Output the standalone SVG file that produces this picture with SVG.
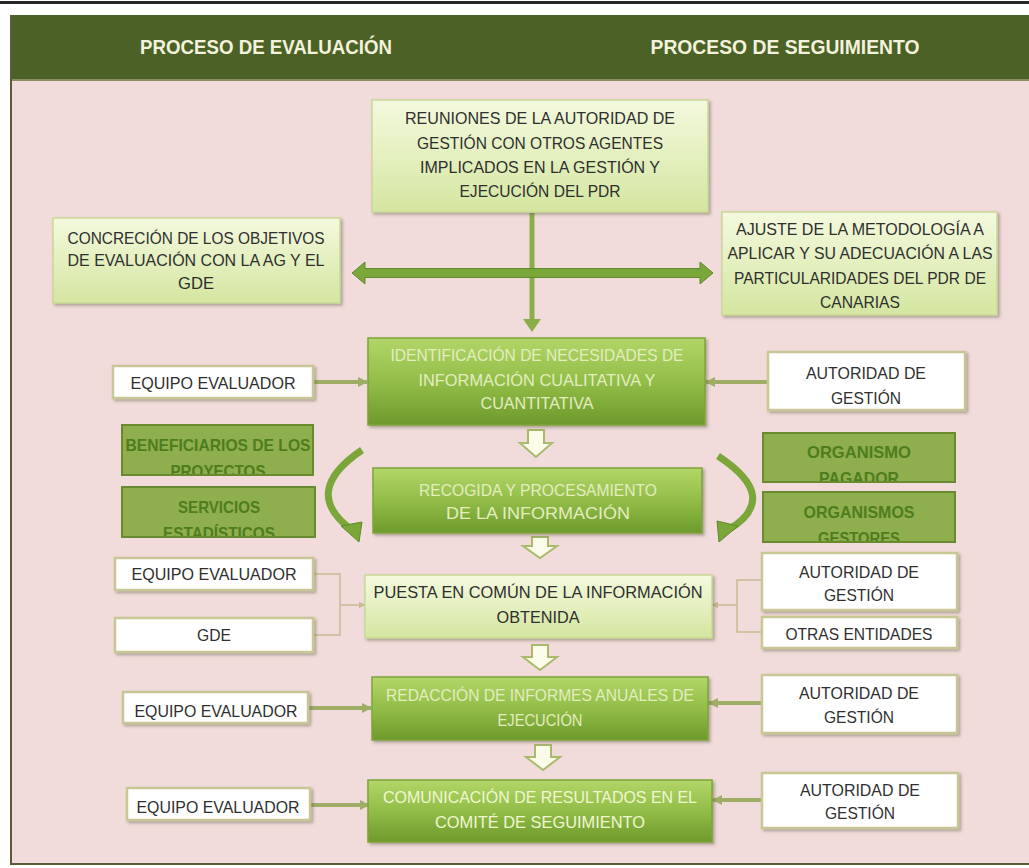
<svg xmlns="http://www.w3.org/2000/svg" width="1029" height="868" viewBox="0 0 1029 868">
<defs>
<style>
.t{font-family:"Liberation Sans",Arial,sans-serif;font-size:17px;text-anchor:middle;fill:#2f2f2f}
.p{fill:#e3edc0}
.pc{fill:#f0f6d2}
.o{fill:#4e7d1e;font-weight:bold}
.h{font-family:"Liberation Sans",Arial,sans-serif;font-weight:bold;font-size:20px;text-anchor:middle;fill:#f2f2de}
.lb{fill:url(#lightG);stroke:#c9d897;stroke-width:1.5}
.mb{fill:url(#midG);stroke:#7fa43a;stroke-width:1.5}
.wb{fill:#ffffff;stroke:#c9c796;stroke-width:2.5}
.ob{fill:#8fae4e;stroke:#6a8a30;stroke-width:2}
.con{stroke:#9fae66;stroke-width:4;fill:none}
.thin{stroke:#c8bb94;stroke-width:1.5;fill:none}
.hol{fill:#fbfbea;stroke:#a9ba6c;stroke-width:2}
.garr{fill:#7ba63a;stroke:#5f8a2a;stroke-width:1}
</style>
<linearGradient id="lightG" x1="0" y1="0" x2="0" y2="1">
<stop offset="0" stop-color="#f4f9de"/>
<stop offset="1" stop-color="#d4e6a0"/>
</linearGradient>
<linearGradient id="midG" x1="0" y1="0" x2="0" y2="1">
<stop offset="0" stop-color="#b2d668"/>
<stop offset="0.5" stop-color="#92bd48"/>
<stop offset="1" stop-color="#6e9a2c"/>
</linearGradient>
<filter id="sh" x="-5%" y="-10%" width="115%" height="130%">
<feDropShadow dx="2" dy="2" stdDeviation="1.5" flood-color="#5a5a40" flood-opacity="0.45"/>
</filter>
<marker id="ah" viewBox="0 0 10 10" refX="9" refY="5" markerWidth="10" markerHeight="10" markerUnits="userSpaceOnUse" orient="auto">
<path d="M0,0 L10,5 L0,10 z" fill="#9fae66"/>
</marker>
<marker id="ahs" viewBox="0 0 10 10" refX="9" refY="5" markerWidth="7" markerHeight="7" markerUnits="userSpaceOnUse" orient="auto">
<path d="M0,0 L10,5 L0,10 z" fill="#c8bb94"/>
</marker>
<clipPath id="cB"><rect x="122" y="425" width="191" height="49"/></clipPath>
<clipPath id="cS"><rect x="122" y="487" width="193" height="49"/></clipPath>
<clipPath id="cP"><rect x="763" y="433" width="192" height="48"/></clipPath>
<clipPath id="cG"><rect x="763" y="492" width="192" height="49"/></clipPath>
</defs>

<!-- background -->
<rect x="0" y="0" width="1029" height="868" fill="#ffffff"/>
<rect x="0" y="1" width="1029" height="3" fill="#262626"/>
<rect x="10" y="80" width="1019" height="784" fill="#f2dcdb"/>
<rect x="10" y="15" width="1019" height="65" fill="#4b6125"/>
<line x1="10" y1="80" x2="1029" y2="80" stroke="#8c8c62" stroke-width="2"/>
<line x1="11" y1="15" x2="11" y2="864" stroke="#5b5a3a" stroke-width="2"/>
<line x1="10" y1="864" x2="1029" y2="864" stroke="#5b5a3a" stroke-width="2"/>
<text class="h" x="266" y="54" textLength="252" lengthAdjust="spacingAndGlyphs">PROCESO DE EVALUACIÓN</text>
<text class="h" x="785" y="54" textLength="269" lengthAdjust="spacingAndGlyphs">PROCESO DE SEGUIMIENTO</text>

<!-- connectors -->
<g id="connectors">
<rect x="529.5" y="213" width="5" height="108" fill="#8aae4a"/>
<polygon points="523,319 541,319 532,332" fill="#8aae4a"/>
<polygon class="garr" points="352,273 365,262 365,268.5 700,268.5 700,262 713,273 700,284 700,277.5 365,277.5 365,284"/>
<line class="con" x1="313" y1="382" x2="367" y2="382" marker-end="url(#ah)"/>
<line class="con" x1="768" y1="382" x2="706" y2="382" marker-end="url(#ah)"/>
<polygon class="hol" points="528,430 544,430 544,443 552,443 536,457 520,443 528,443"/>
<path d="M362,450 Q300,492 352,530" stroke="#7ba63a" stroke-width="7" fill="none"/>
<polygon class="garr" points="341,526 362,522 359,542"/>
<path d="M718,456 Q782,498 728,530" stroke="#7ba63a" stroke-width="7" fill="none"/>
<polygon class="garr" points="738,526 717,521 719,542"/>
<polygon class="hol" points="532,537 548,537 548,546 557,546 540,558 523,546 532,546"/>
<polyline class="thin" points="313,574 340,574 340,635 313,635"/>
<line class="thin" x1="340" y1="605" x2="365" y2="605" marker-end="url(#ahs)"/>
<polyline class="thin" points="762,580 737,580 737,632 762,632"/>
<line class="thin" x1="737" y1="605" x2="712" y2="605" marker-end="url(#ahs)"/>
<polygon class="hol" points="532,645 548,645 548,657 557,657 540,670 523,657 532,657"/>
<line class="con" x1="308" y1="708" x2="371" y2="708" marker-end="url(#ah)"/>
<line class="con" x1="762" y1="703" x2="709" y2="703" marker-end="url(#ah)"/>
<polygon class="hol" points="535,745 551,745 551,757 560,757 543,770 526,757 535,757"/>
<line class="con" x1="310" y1="805" x2="369" y2="805" marker-end="url(#ah)"/>
<line class="con" x1="762" y1="800" x2="713" y2="800" marker-end="url(#ah)"/>
</g>

<g id="reuniones">
<rect class="lb" x="372" y="100" width="336" height="112" filter="url(#sh)"/>
<text class="t" x="540" y="124" textLength="270" lengthAdjust="spacingAndGlyphs">REUNIONES DE LA AUTORIDAD DE</text>
<text class="t" x="540" y="149" textLength="246" lengthAdjust="spacingAndGlyphs">GESTIÓN CON OTROS AGENTES</text>
<text class="t" x="540" y="173" textLength="240" lengthAdjust="spacingAndGlyphs">IMPLICADOS EN LA GESTIÓN Y</text>
<text class="t" x="540" y="197" textLength="161" lengthAdjust="spacingAndGlyphs">EJECUCIÓN DEL PDR</text>
</g>

<g id="concrecion">
<rect class="lb" x="53" y="218" width="287" height="85" filter="url(#sh)"/>
<text class="t" x="196" y="244" textLength="257" lengthAdjust="spacingAndGlyphs">CONCRECIÓN DE LOS OBJETIVOS</text>
<text class="t" x="196" y="266" textLength="257" lengthAdjust="spacingAndGlyphs">DE EVALUACIÓN CON LA AG Y EL</text>
<text class="t" x="196" y="289" textLength="36" lengthAdjust="spacingAndGlyphs">GDE</text>
</g>

<g id="ajuste">
<rect class="lb" x="722" y="212" width="275" height="103" filter="url(#sh)"/>
<text class="t" x="860" y="235" textLength="248" lengthAdjust="spacingAndGlyphs">AJUSTE DE LA METODOLOGÍA A</text>
<text class="t" x="860" y="259" textLength="265" lengthAdjust="spacingAndGlyphs">APLICAR Y SU ADECUACIÓN A LAS</text>
<text class="t" x="860" y="284" textLength="252" lengthAdjust="spacingAndGlyphs">PARTICULARIDADES DEL PDR DE</text>
<text class="t" x="860" y="308" textLength="80" lengthAdjust="spacingAndGlyphs">CANARIAS</text>
</g>

<g id="identificacion">
<rect class="mb" x="368" y="338" width="337" height="87" filter="url(#sh)"/>
<text class="t p" x="537" y="361" textLength="293" lengthAdjust="spacingAndGlyphs">IDENTIFICACIÓN DE NECESIDADES DE</text>
<text class="t p" x="537" y="386" textLength="237" lengthAdjust="spacingAndGlyphs">INFORMACIÓN CUALITATIVA Y</text>
<text class="t p" x="537" y="409" textLength="113" lengthAdjust="spacingAndGlyphs">CUANTITATIVA</text>
</g>

<g id="equipo1">
<rect class="wb" x="113" y="366" width="200" height="32" filter="url(#sh)"/>
<text class="t" x="213" y="389" textLength="165" lengthAdjust="spacingAndGlyphs">EQUIPO EVALUADOR</text>
</g>

<g id="autoridad1">
<rect class="wb" x="768" y="352" width="197" height="58" filter="url(#sh)"/>
<text class="t" x="866" y="379" textLength="120" lengthAdjust="spacingAndGlyphs">AUTORIDAD DE</text>
<text class="t" x="866" y="404" textLength="70" lengthAdjust="spacingAndGlyphs">GESTIÓN</text>
</g>

<g id="beneficiarios">
<rect class="ob" x="122" y="425" width="191" height="50"/>
<g clip-path="url(#cB)">
<text class="t o" x="218" y="451" textLength="185" lengthAdjust="spacingAndGlyphs">BENEFICIARIOS DE LOS</text>
<text class="t o" x="218" y="477" textLength="95" lengthAdjust="spacingAndGlyphs">PROYECTOS</text>
</g>
</g>

<g id="servicios">
<rect class="ob" x="122" y="487" width="193" height="50"/>
<g clip-path="url(#cS)">
<text class="t o" x="219" y="513" textLength="82" lengthAdjust="spacingAndGlyphs">SERVICIOS</text>
<text class="t o" x="219" y="539" textLength="112" lengthAdjust="spacingAndGlyphs">ESTADÍSTICOS</text>
</g>
</g>

<g id="pagador">
<rect class="ob" x="763" y="433" width="192" height="49"/>
<g clip-path="url(#cP)">
<text class="t o" x="859" y="458" textLength="104" lengthAdjust="spacingAndGlyphs">ORGANISMO</text>
<text class="t o" x="859" y="484" textLength="80" lengthAdjust="spacingAndGlyphs">PAGADOR</text>
</g>
</g>

<g id="gestores">
<rect class="ob" x="763" y="492" width="192" height="50"/>
<g clip-path="url(#cG)">
<text class="t o" x="859" y="518" textLength="111" lengthAdjust="spacingAndGlyphs">ORGANISMOS</text>
<text class="t o" x="859" y="544" textLength="82" lengthAdjust="spacingAndGlyphs">GESTORES</text>
</g>
</g>

<g id="recogida">
<rect class="mb" x="373" y="468" width="329" height="65" filter="url(#sh)"/>
<text class="t p" x="538" y="496" textLength="238" lengthAdjust="spacingAndGlyphs">RECOGIDA Y PROCESAMIENTO</text>
<text class="t p" x="538" y="519" textLength="184" lengthAdjust="spacingAndGlyphs">DE LA INFORMACIÓN</text>
</g>

<g id="puesta">
<rect class="lb" x="365" y="575" width="347" height="63" filter="url(#sh)"/>
<text class="t" x="538" y="598" textLength="329" lengthAdjust="spacingAndGlyphs">PUESTA EN COMÚN DE LA INFORMACIÓN</text>
<text class="t" x="538" y="623" textLength="83" lengthAdjust="spacingAndGlyphs">OBTENIDA</text>
</g>

<g id="equipo2">
<rect class="wb" x="115" y="558" width="198" height="32" filter="url(#sh)"/>
<text class="t" x="214" y="580" textLength="165" lengthAdjust="spacingAndGlyphs">EQUIPO EVALUADOR</text>
</g>

<g id="gde">
<rect class="wb" x="115" y="618" width="198" height="34" filter="url(#sh)"/>
<text class="t" x="214" y="641" textLength="34" lengthAdjust="spacingAndGlyphs">GDE</text>
</g>

<g id="autoridad2">
<rect class="wb" x="762" y="553" width="195" height="57" filter="url(#sh)"/>
<text class="t" x="859" y="578" textLength="120" lengthAdjust="spacingAndGlyphs">AUTORIDAD DE</text>
<text class="t" x="859" y="601" textLength="70" lengthAdjust="spacingAndGlyphs">GESTIÓN</text>
</g>

<g id="otras">
<rect class="wb" x="762" y="617" width="195" height="31" filter="url(#sh)"/>
<text class="t" x="859" y="640" textLength="147" lengthAdjust="spacingAndGlyphs">OTRAS ENTIDADES</text>
</g>

<g id="redaccion">
<rect class="mb" x="372" y="677" width="336" height="63" filter="url(#sh)"/>
<text class="t p" x="540" y="701" textLength="308" lengthAdjust="spacingAndGlyphs">REDACCIÓN DE INFORMES ANUALES DE</text>
<text class="t p" x="540" y="726" textLength="85" lengthAdjust="spacingAndGlyphs">EJECUCIÓN</text>
</g>

<g id="equipo3">
<rect class="wb" x="123" y="692" width="185" height="31" filter="url(#sh)"/>
<text class="t" x="216" y="717" textLength="163" lengthAdjust="spacingAndGlyphs">EQUIPO EVALUADOR</text>
</g>

<g id="autoridad3">
<rect class="wb" x="762" y="675" width="195" height="58" filter="url(#sh)"/>
<text class="t" x="859" y="699" textLength="120" lengthAdjust="spacingAndGlyphs">AUTORIDAD DE</text>
<text class="t" x="859" y="723" textLength="70" lengthAdjust="spacingAndGlyphs">GESTIÓN</text>
</g>

<g id="comunicacion">
<rect class="mb" x="368" y="780" width="344" height="62" filter="url(#sh)"/>
<text class="t pc" x="540" y="803" textLength="314" lengthAdjust="spacingAndGlyphs">COMUNICACIÓN DE RESULTADOS EN EL</text>
<text class="t pc" x="540" y="828" textLength="210" lengthAdjust="spacingAndGlyphs">COMITÉ DE SEGUIMIENTO</text>
</g>

<g id="equipo4">
<rect class="wb" x="127" y="788" width="183" height="32" filter="url(#sh)"/>
<text class="t" x="218" y="813" textLength="163" lengthAdjust="spacingAndGlyphs">EQUIPO EVALUADOR</text>
</g>

<g id="autoridad4">
<rect class="wb" x="762" y="773" width="196" height="55" filter="url(#sh)"/>
<text class="t" x="860" y="796" textLength="120" lengthAdjust="spacingAndGlyphs">AUTORIDAD DE</text>
<text class="t" x="860" y="819" textLength="70" lengthAdjust="spacingAndGlyphs">GESTIÓN</text>
</g>
</svg>
